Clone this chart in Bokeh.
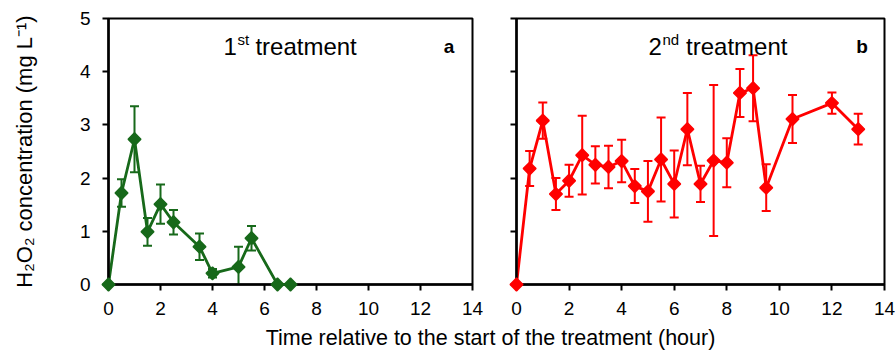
import math
from bokeh.plotting import figure
from bokeh.models import (Range1d, Whisker, TeeHead, ColumnDataSource, Label, FixedTicker,
                          CustomJSTickFormatter)
from bokeh.layouts import column, row
from bokeh.embed import file_html
from bokeh.resources import INLINE

# ---- data ----
t1 = [0, 0.5, 1, 1.5, 2, 2.5, 3.5, 4, 5, 5.5, 6.5, 7]
c1 = [0, 1.72, 2.73, 0.99, 1.51, 1.17, 0.71, 0.21, 0.33, 0.87, 0, 0]
e1 = [0, 0.26, 0.62, 0.26, 0.37, 0.23, 0.25, 0.08, 0.38, 0.23, 0, 0]

t2 = [0, 0.5, 1, 1.5, 2, 2.5, 3, 3.5, 4, 4.5, 5, 5.5, 6, 6.5, 7, 7.5, 8, 8.5, 9, 9.5, 10.5, 12, 13]
c2 = [0, 2.18, 3.08, 1.70, 1.95, 2.43, 2.25, 2.21, 2.32, 1.85, 1.75, 2.35, 1.89, 2.92,
      1.89, 2.33, 2.29, 3.60, 3.69, 1.82, 3.11, 3.41, 2.92]
e2 = [0, 0.33, 0.34, 0.30, 0.30, 0.74, 0.35, 0.40, 0.40, 0.32, 0.57, 0.79, 0.63, 0.68,
      0.34, 1.42, 0.46, 0.45, 0.62, 0.44, 0.45, 0.20, 0.29]

x_ticks = [0, 2, 4, 6, 8, 10, 12, 14]
y_ticks = [0, 1, 2, 3, 4, 5]
y_title = "H\u2082O\u2082 concentration (mg L\u207b\u00b9)"
x_title = "Time relative to the start of the treatment (hour)"

FONT = "Liberation Sans"
GREEN = "#17691a"
RED = "#ff0000"


def make_panel(width, border_left, border_right, t, c, e, color, show_ylabels):
    p = figure(width=width, height=320, x_range=Range1d(0, 14), y_range=Range1d(0, 5),
               output_backend="svg", toolbar_location=None,
               min_border_left=border_left, min_border_right=border_right,
               min_border_top=18, min_border_bottom=36)
    p.grid.visible = False
    p.outline_line_color = "black"
    p.outline_line_width = 2
    p.background_fill_color = "white"
    p.border_fill_color = "white"
    for ax in (p.xaxis[0], p.yaxis[0]):
        ax.axis_line_width = 2.5
        ax.axis_line_color = "black"
        ax.major_tick_line_width = 2
        ax.major_tick_line_color = "black"
        ax.major_tick_out = 6
        ax.major_tick_in = 0
        ax.minor_tick_line_color = None
        ax.major_label_text_font = FONT
        ax.major_label_text_font_size = "19px"
        ax.major_label_text_color = "black"
    p.xaxis.ticker = FixedTicker(ticks=x_ticks)
    p.yaxis.ticker = FixedTicker(ticks=y_ticks)
    p.xaxis.major_label_standoff = 11
    if show_ylabels:
        p.yaxis.major_label_standoff = 12
        p.yaxis.axis_label = y_title
        p.yaxis.axis_label_text_font = FONT
        p.yaxis.axis_label_text_font_size = "22px"
        p.yaxis.axis_label_text_font_style = "normal"
        p.yaxis.axis_label_text_color = "black"
        p.yaxis.axis_label_standoff = 40
    else:
        p.yaxis.formatter = CustomJSTickFormatter(code="return ''")
        p.yaxis.major_label_standoff = 0

    src = ColumnDataSource(dict(x=t, y=c,
                                upper=[a + b for a, b in zip(c, e)],
                                lower=[a - b for a, b in zip(c, e)]))
    w = Whisker(base="x", upper="upper", lower="lower", source=src,
                line_color=color, line_width=2,
                upper_head=TeeHead(size=9, line_color=color, line_width=2),
                lower_head=TeeHead(size=9, line_color=color, line_width=2))
    p.add_layout(w)
    p.line("x", "y", source=src, line_color=color, line_width=2.8)
    p.scatter("x", "y", source=src, marker="square", size=9, angle=math.pi / 4,
              fill_color=color, line_color=color, line_width=1.5, level="overlay")
    return p


p1 = make_panel(490, 108, 18, t1, c1, e1, GREEN, True)
p2 = make_panel(406, 26, 12, t2, c2, e2, RED, False)


def title(p, num, sup, x_num, x_sup, x_word, letter, x_letter):
    p.add_layout(Label(x=x_num, y=4.47, text=num, text_font=FONT, text_font_size="24px",
                       text_baseline="alphabetic", text_align="left", text_color="black"))
    p.add_layout(Label(x=x_sup, y=4.6, text=sup, text_font=FONT, text_font_size="15px",
                       text_baseline="alphabetic", text_align="left", text_color="black"))
    p.add_layout(Label(x=x_word, y=4.47, text="treatment", text_font=FONT, text_font_size="24px",
                       text_baseline="alphabetic", text_align="left", text_color="black"))
    p.add_layout(Label(x=x_letter, y=4.47, text=letter, text_font=FONT, text_font_size="19px",
                       text_font_style="bold", text_baseline="alphabetic", text_align="center",
                       text_color="black"))


title(p1, "1", "st", 4.42, 4.96, 5.65, "a", 13.1)
title(p2, "2", "nd", 5.02, 5.55, 6.45, "b", 13.15)

p3 = figure(width=896, height=30, x_range=Range1d(0, 896), y_range=Range1d(0, 30),
            output_backend="svg", toolbar_location=None, x_axis_type=None, y_axis_type=None,
            min_border=0)
p3.grid.visible = False
p3.outline_line_color = None
p3.add_layout(Label(x=490, y=13, text=x_title, text_font=FONT, text_font_size="21.5px",
                    text_align="center", text_baseline="middle", text_color="black"))

layout = column(row(p1, p2), p3)
open("out.html", "w").write(file_html(layout, INLINE))
